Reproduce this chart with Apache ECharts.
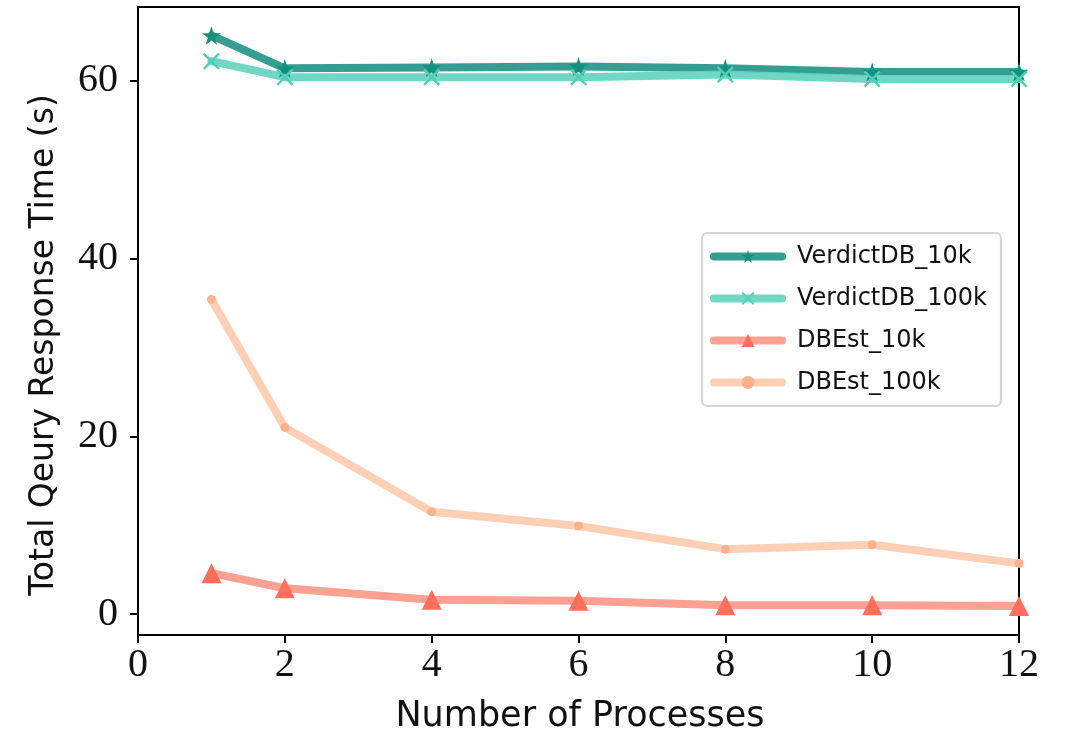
<!DOCTYPE html>
<html>
<head>
<meta charset="utf-8">
<script src="https://cdn.jsdelivr.net/npm/echarts@6/dist/echarts.min.js"></script>
<style>
  html, body { margin: 0; padding: 0; background: #fff; }
  #chart { width: 1068px; height: 736px; }
</style>
</head>
<body>
<div id="chart"></div>
<script>
// Number of processes on the x axis
const processes = [1, 2, 4, 6, 8, 10, 12];

// Total query response time (s) per method / sample size
const verdict10k  = [65.1, 61.4, 61.5, 61.6, 61.4, 61.0, 61.0];
const verdict100k = [62.2, 60.4, 60.4, 60.4, 60.7, 60.2, 60.2];
const dbest10k    = [4.6, 2.9, 1.6, 1.5, 1.0, 1.0, 0.9];
const dbest100k   = [35.4, 21.0, 11.5, 9.9, 7.3, 7.8, 5.7];

const seriesNames = ['VerdictDB_10k', 'VerdictDB_100k', 'DBEst_10k', 'DBEst_100k'];
const yTicks = [0, 20, 40, 60];
const xTitle = 'Number of Processes';
const yTitle = 'Total Qeury Response Time (s)';

const STAR = 'path://M50,0 L61,35 L98,35 L68,57 L79,91 L50,70 L21,91 L32,57 L2,35 L39,35 Z';
const CROSS = 'path://M0,1 L1,0 L5,4 L9,0 L10,1 L6,5 L10,9 L9,10 L5,6 L1,10 L0,9 L4,5 Z';

const sansFont = 'DejaVu Sans';
const serifFont = 'Liberation Serif';

function pairs(values) {
  return processes.map((p, i) => [p, values[i]]);
}

function lineSeries(name, values, lineColor, markColor, symbol, symbolSize) {
  return {
    name: name,
    type: 'line',
    data: pairs(values),
    symbol: symbol,
    symbolSize: symbolSize,
    showAllSymbol: true,
    clip: false,
    lineStyle: { color: lineColor, width: 8, cap: 'round', join: 'round' },
    itemStyle: { color: markColor, borderWidth: 0 },
    emphasis: { disabled: true },
    animation: false
  };
}

const chart = echarts.init(document.getElementById('chart'), null, { renderer: 'canvas' });

chart.setOption({
  backgroundColor: '#ffffff',
  animation: false,
  grid: {
    left: 138, right: 49, top: 7, bottom: 101,
    outerBoundsMode: 'none',
    containLabel: false,
    show: true, borderColor: '#000', borderWidth: 2, backgroundColor: 'transparent'
  },
  legend: {
    data: seriesNames,
    orient: 'vertical',
    left: 702,
    top: 233,
    padding: [10, 14, 10, 8],
    itemWidth: 68,
    itemHeight: 16,
    itemGap: 15,
    backgroundColor: '#fff',
    borderColor: '#d6d6d6',
    borderWidth: 2,
    borderRadius: 5,
    lineStyle: { width: 8 },
    textStyle: { fontFamily: sansFont, fontSize: 24, color: '#111', padding: [0, 0, 0, 10], lineHeight: 27 }
  },
  xAxis: {
    type: 'value',
    min: 0, max: 12, interval: 2,
    axisLine: { show: true, onZero: false, lineStyle: { color: '#000', width: 2 } },
    axisTick: { show: true, length: 8, lineStyle: { color: '#000', width: 2 } },
    axisLabel: { fontFamily: serifFont, fontSize: 40, color: '#111', margin: 10 },
    splitLine: { show: false }
  },
  yAxis: {
    type: 'value',
    min: -2.36, max: 68.3,
    axisLine: { show: true, onZero: false, lineStyle: { color: '#000', width: 2 } },
    axisTick: { show: true, length: 8, customValues: yTicks, lineStyle: { color: '#000', width: 2 } },
    axisLabel: { fontFamily: serifFont, fontSize: 40, color: '#111', margin: 20, customValues: yTicks },
    splitLine: { show: false }
  },
  graphic: [
    {
      type: 'text',
      x: 580, y: 717,
      style: {
        text: xTitle, fontFamily: sansFont, fontSize: 35, fill: '#111',
        align: 'center', verticalAlign: 'middle'
      }
    },
    {
      type: 'text',
      x: 44, y: 345, rotation: Math.PI / 2,
      style: {
        text: yTitle, fontFamily: sansFont, fontSize: 33, fill: '#111',
        align: 'center', verticalAlign: 'middle'
      }
    }
  ],
  series: [
    lineSeries(seriesNames[0], verdict10k, 'rgba(36,150,135,0.92)', '#14907f', STAR, 19),
    lineSeries(seriesNames[1], verdict100k, 'rgba(100,212,192,0.92)', '#52cdb6', CROSS, 17),
    lineSeries(seriesNames[2], dbest10k, 'rgba(255,140,122,0.82)', '#ff6f5c', 'triangle', 20),
    lineSeries(seriesNames[3], dbest100k, 'rgba(252,196,164,0.8)', '#fbb28c', 'circle', 9)
  ]
});
</script>
</body>
</html>
